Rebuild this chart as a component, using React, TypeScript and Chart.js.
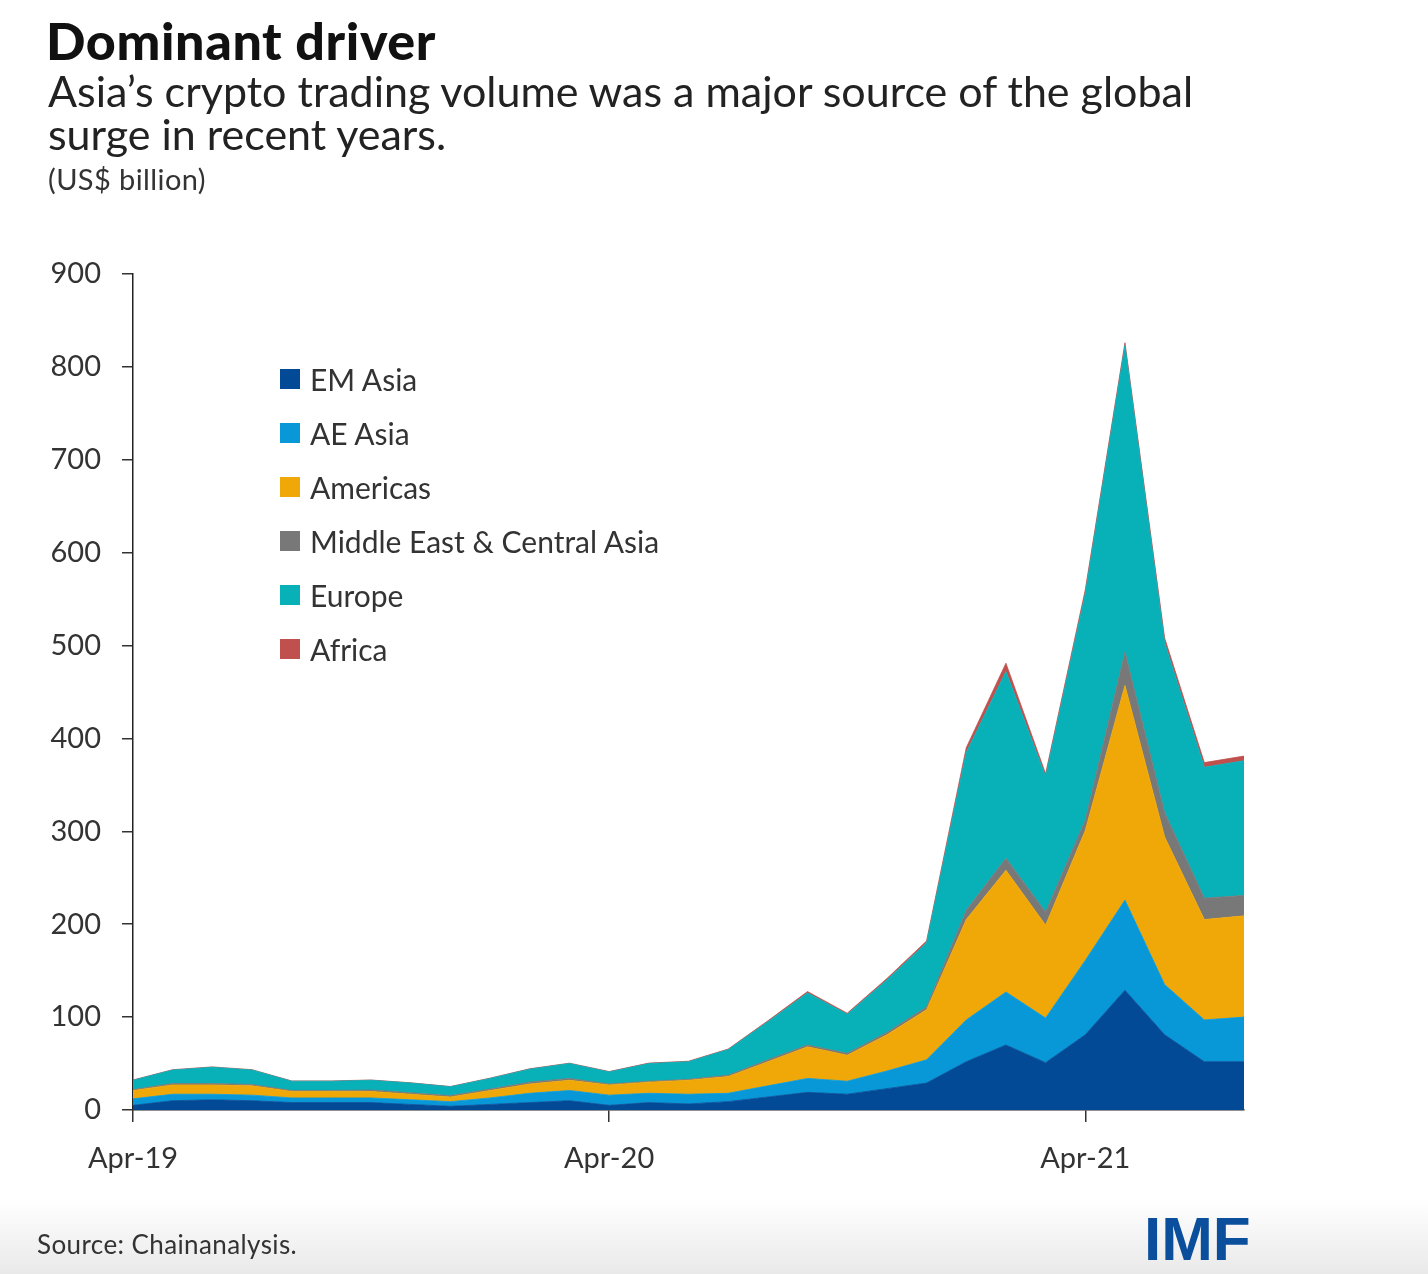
import React, { useEffect, useRef } from "react";
import { Chart, registerables } from "chart.js";

Chart.register(...registerables);

const months = [
  "Apr-19", "May-19", "Jun-19", "Jul-19", "Aug-19", "Sep-19", "Oct-19", "Nov-19", "Dec-19",
  "Jan-20", "Feb-20", "Mar-20", "Apr-20", "May-20", "Jun-20", "Jul-20", "Aug-20", "Sep-20",
  "Oct-20", "Nov-20", "Dec-20", "Jan-21", "Feb-21", "Mar-21", "Apr-21", "May-21", "Jun-21",
  "Jul-21", "Aug-21",
];

const emAsia = [5, 10, 11, 10, 8, 8, 8, 6, 4, 6, 8, 10, 5, 8, 6.5, 9, 14, 19, 17, 23, 29, 52, 70, 51, 81, 129, 81, 52, 52];
const aeAsia = [7, 7, 6, 6, 5, 5, 5, 5, 5, 7, 10, 11, 11, 10, 10.5, 9, 12, 15, 14, 19, 25, 45, 57, 48, 80, 97, 54, 45, 48];
const americas = [9, 10, 10, 10, 7, 7, 7, 6, 5, 8, 10, 11, 11, 12, 15, 18, 26, 34, 28, 39, 54, 108, 131, 100, 140, 231, 159, 108, 109];
const middleEast = [1, 1.5, 1.5, 1.5, 1, 1, 1.5, 1.5, 1.5, 1.5, 2, 2, 1, 1, 1, 1.5, 2, 2, 2, 2.5, 3, 10, 13, 14, 11, 36, 26, 23, 22];
const europe = [10, 14.5, 17.5, 15.5, 10, 10, 10.5, 10.5, 9.5, 11.5, 14, 16, 13, 19, 19, 27.5, 41, 56, 42, 56.5, 69, 170, 201, 146, 244, 330, 183, 141, 145];
const africa = [0.3, 0.4, 0.4, 0.4, 0.3, 0.3, 0.3, 0.3, 0.3, 0.3, 0.4, 0.4, 0.4, 0.5, 0.5, 0.6, 1, 1.5, 1.2, 1.5, 2, 5, 9, 3, 4, 3, 5, 5, 5];

const seriesNames = ["EM Asia", "AE Asia", "Americas", "Middle East & Central Asia", "Europe", "Africa"];
const seriesColors = ["#034a96", "#0898d8", "#f0a808", "#787878", "#08b0b8", "#c0504d"];
const seriesValues = [emAsia, aeAsia, americas, middleEast, europe, africa];

const FONT = "Lato, 'Open Sans', sans-serif";

export default function App() {
  const canvasRef = useRef<HTMLCanvasElement | null>(null);

  useEffect(() => {
    const canvas = canvasRef.current;
    if (!canvas) return;
    const datasets = seriesNames.map((name, k) => ({
      label: name,
      data: seriesValues[k].map((v, i) => ({ x: i, y: v })),
      backgroundColor: seriesColors[k],
      borderColor: seriesColors[k],
      borderWidth: 0.8,
      fill: k === 0 ? "origin" : "-1",
      pointRadius: 0,
      tension: 0,
    }));
    const chart = new Chart(canvas, {
      type: "line",
      data: { datasets },
      options: {
        animation: false,
        responsive: false,
        maintainAspectRatio: false,
        layout: { padding: { left: 0, right: 184, top: 274, bottom: 0 } },
        plugins: { legend: { display: false }, tooltip: { enabled: false } },
        scales: {
          x: {
            type: "linear",
            min: 0,
            max: 28,
            ticks: {
              stepSize: 12,
              includeBounds: false,
              autoSkip: false,
              maxRotation: 0,
              padding: 19,
              color: "#333",
              font: { family: FONT, size: 29 },
              callback: (v: any) => months[Number(v)] ?? "",
            },
            grid: { drawOnChartArea: false, drawTicks: true, tickLength: 12, color: "#333", lineWidth: 1.5 },
            border: { display: true, color: "#222", width: 1.5 },
            afterFit: (s: any) => {
              s.height = 164;
            },
          },
          y: {
            stacked: true,
            min: 0,
            max: 900,
            ticks: {
              stepSize: 100,
              padding: 21,
              color: "#333",
              font: { family: FONT, size: 29 },
            },
            grid: { drawOnChartArea: false, drawTicks: true, tickLength: 11, color: "#333", lineWidth: 1.5 },
            border: { display: true, color: "#222", width: 1.5 },
            afterFit: (s: any) => {
              s.width = 133;
            },
          },
        },
      },
    });
    return () => chart.destroy();
  }, []);

  return (
    <div style={{ position: "absolute", left: 0, top: 0, width: 1428, height: 1274, background: "#fff", overflow: "hidden", fontFamily: FONT }}>
      <div style={{ position: "absolute", left: 0, top: 1200, width: 1428, height: 74, background: "linear-gradient(#ffffff, #e9e9e9)" }} />
      <canvas ref={canvasRef} width={1428} height={1274} style={{ position: "absolute", left: 0, top: 0, width: 1428, height: 1274 }} />
      <div style={{ position: "absolute", left: 46, top: 9, fontSize: 52, fontWeight: 900, color: "#111", letterSpacing: 0.6, whiteSpace: "nowrap", lineHeight: "62px" }}>Dominant driver</div>
      <div style={{ position: "absolute", left: 48, top: 69, fontSize: 43, fontWeight: 400, color: "#222", lineHeight: "43px", whiteSpace: "nowrap" }}>
        Asia’s crypto trading volume was a major source of the global
        <br />
        surge in recent years.
      </div>
      <div style={{ position: "absolute", left: 48, top: 161, fontSize: 29, color: "#333", letterSpacing: 0.4, whiteSpace: "nowrap" }}>(US$ billion)</div>
      <div style={{ position: "absolute", left: 280, top: 360 }}>
        {seriesNames.map((name, k) => (
          <div key={name} style={{ position: "absolute", left: 0, top: k * 54, height: 38, display: "flex", alignItems: "center", whiteSpace: "nowrap" }}>
            <span style={{ display: "inline-block", width: 20, height: 20, background: seriesColors[k], marginRight: 10 }} />
            <span style={{ fontSize: 30, color: "#333" }}>{name}</span>
          </div>
        ))}
      </div>
      <div style={{ position: "absolute", left: 37, top: 1228, fontSize: 26, color: "#333", letterSpacing: 0.4, whiteSpace: "nowrap" }}>Source: Chainanalysis.</div>
      <div style={{ position: "absolute", left: 1144, top: 1203, fontSize: 62, fontWeight: 900, color: "#0b4f9c", letterSpacing: 0, fontFamily: "'Liberation Sans', Arial, sans-serif", whiteSpace: "nowrap" }}>IMF</div>
    </div>
  );
}
